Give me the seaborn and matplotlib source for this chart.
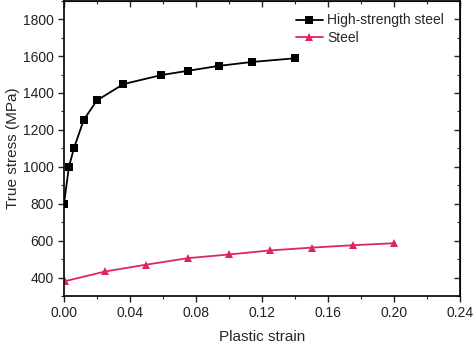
import matplotlib
matplotlib.use("Agg")
import matplotlib.pyplot as plt
import seaborn as sns
from matplotlib.ticker import MultipleLocator

# data
hs_strain = [0.0, 0.003, 0.006, 0.012, 0.020, 0.036, 0.059, 0.075, 0.094, 0.114, 0.140]
hs_stress = [800, 1000, 1100, 1255, 1360, 1448, 1497, 1520, 1547, 1568, 1588]

st_strain = [0.0005, 0.025, 0.050, 0.075, 0.100, 0.125, 0.150, 0.175, 0.200]
st_stress = [380, 433, 470, 505, 525, 547, 562, 575, 586]

sns.set_style("ticks")
plt.rcParams['font.family'] = ['Liberation Sans', 'DejaVu Sans']

fig = plt.figure(figsize=(4.74, 3.43), dpi=100)
ax = fig.add_axes([0.135, 0.137, 0.8355, 0.861])

sns.lineplot(x=hs_strain, y=hs_stress, ax=ax, color='black', marker='s',
             markersize=5.5, markeredgewidth=0, linewidth=1.3,
             label='High-strength steel', sort=False)
sns.lineplot(x=st_strain, y=st_stress, ax=ax, color='#e0245e', marker='^',
             markersize=6, markeredgewidth=0, linewidth=1.3,
             label='Steel', sort=False)

ax.set_xlim(0, 0.24)
ax.set_ylim(300, 1900)
ax.xaxis.set_major_locator(MultipleLocator(0.04))
ax.xaxis.set_minor_locator(MultipleLocator(0.02))
ax.yaxis.set_minor_locator(MultipleLocator(100))
ax.set_yticks(range(400, 1801, 200))
ax.set_xticklabels([f"{v:.2f}" for v in ax.get_xticks()])

for s in ax.spines.values():
    s.set_visible(True)
    s.set_linewidth(1.2)
    s.set_color('black')

ax.tick_params(which='major', direction='out', length=4, width=1, labelsize=10,
               colors='#222222')
ax.tick_params(which='minor', direction='out', length=2, width=0.8)

# mirrored ticks on top and right, pointing inward
top = ax.secondary_xaxis('top')
top.xaxis.set_major_locator(MultipleLocator(0.04))
top.xaxis.set_minor_locator(MultipleLocator(0.02))
top.tick_params(which='major', direction='in', length=4, width=1, labeltop=False)
top.tick_params(which='minor', direction='in', length=2, width=0.8)
right = ax.secondary_yaxis('right')
right.yaxis.set_major_locator(MultipleLocator(200))
right.yaxis.set_minor_locator(MultipleLocator(100))
right.tick_params(which='major', direction='in', length=4, width=1, labelright=False)
right.tick_params(which='minor', direction='in', length=2, width=0.8)

ax.set_xlabel('Plastic strain', fontsize=11, labelpad=7)
ax.set_ylabel('True stress (MPa)', fontsize=11, labelpad=2)

ax.legend(loc='upper right', frameon=False, fontsize=10, handlelength=2,
          handletextpad=0.3, borderaxespad=0.3, labelspacing=0.25,
          bbox_to_anchor=(0.985, 0.99))

fig.savefig('out.png', dpi=100)
